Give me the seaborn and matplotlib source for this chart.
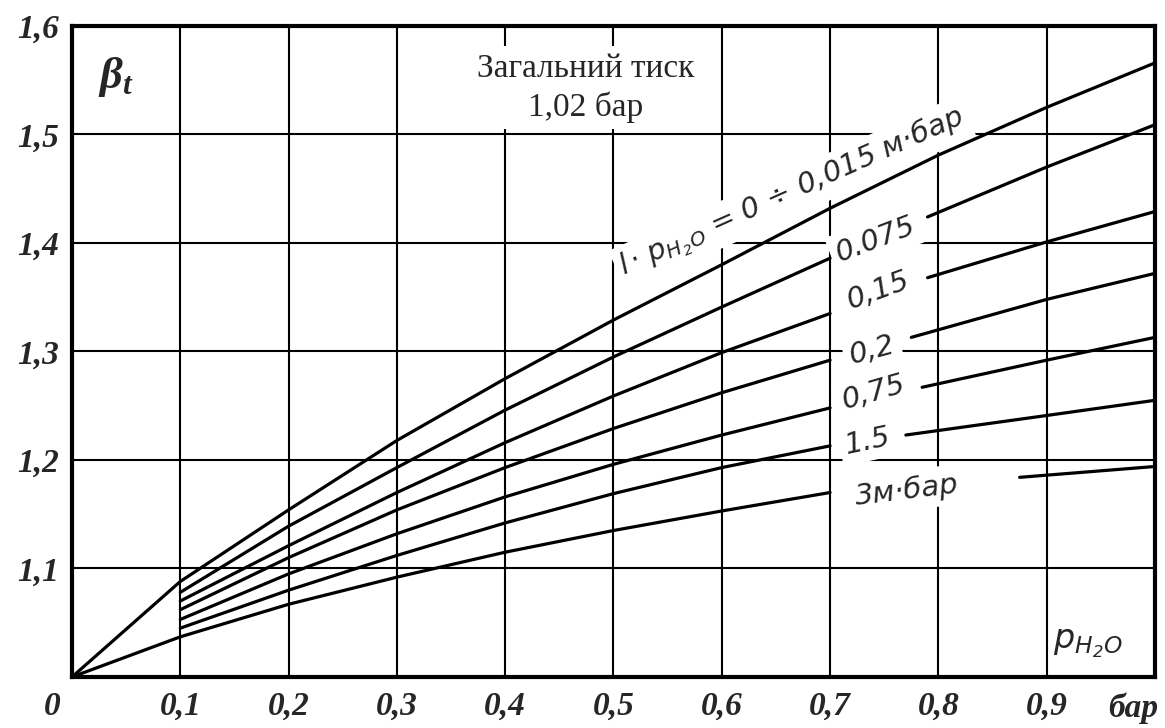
import matplotlib
matplotlib.use("Agg")
import matplotlib.pyplot as plt
import matplotlib.transforms as mtransforms
from matplotlib import font_manager
import pandas as pd
import seaborn as sns

# partial pressure of H2O, bar
p_full = [0.0, 0.1, 0.2, 0.3, 0.4, 0.5, 0.6, 0.7, 0.8, 0.9, 1.0]
p_left = [0.1, 0.2, 0.3, 0.4, 0.5, 0.6, 0.7]
p_left_3 = [0.0, 0.1, 0.2, 0.3, 0.4, 0.5, 0.6, 0.7]

# beta_t, one list per l*p_H2O curve
beta_0_015 = [1.000, 1.088, 1.154, 1.218, 1.275, 1.329, 1.380, 1.432, 1.481, 1.525, 1.566]

beta_0_075_left = [1.078, 1.139, 1.193, 1.246, 1.295, 1.341, 1.386]
p_0_075_right = [0.79, 0.9, 1.0]
beta_0_075_right = [1.424, 1.470, 1.509]

beta_0_15_left = [1.070, 1.121, 1.170, 1.216, 1.259, 1.299, 1.335]
p_0_15_right = [0.79, 0.9, 1.0]
beta_0_15_right = [1.368, 1.401, 1.429]

beta_0_2_left = [1.062, 1.110, 1.154, 1.193, 1.229, 1.262, 1.292]
p_0_2_right = [0.775, 0.9, 1.0]
beta_0_2_right = [1.313, 1.348, 1.372]

beta_0_75_left = [1.053, 1.095, 1.132, 1.166, 1.196, 1.223, 1.248]
p_0_75_right = [0.785, 0.9, 1.0]
beta_0_75_right = [1.267, 1.292, 1.313]

beta_1_5_left = [1.045, 1.080, 1.112, 1.142, 1.169, 1.193, 1.213]
p_1_5_right = [0.77, 0.9, 1.0]
beta_1_5_right = [1.223, 1.241, 1.255]

beta_3_left = [1.000, 1.037, 1.067, 1.092, 1.115, 1.135, 1.153, 1.170]
p_3_right = [0.875, 1.0]
beta_3_right = [1.184, 1.194]

x_ticks = [0.0, 0.1, 0.2, 0.3, 0.4, 0.5, 0.6, 0.7, 0.8, 0.9]
x_tick_labels = ["0", "0,1", "0,2", "0,3", "0,4", "0,5", "0,6", "0,7", "0,8", "0,9"]
y_ticks = [1.1, 1.2, 1.3, 1.4, 1.5, 1.6]
y_tick_labels = ["1,1", "1,2", "1,3", "1,4", "1,5", "1,6"]

top_label = r"$\mathsf{l\cdot\,p_{H_2O}}$ = 0 ÷ 0,015 м·бар"
curve_labels = ["0.075", "0,15", "0,2", "0,75", "1.5", "3м·бар"]
curve_label_pos = [(0.742, 1.403), (0.744, 1.356), (0.739, 1.301),
                   (0.740, 1.262), (0.735, 1.2175), (0.771, 1.172)]
curve_label_rot = [21, 20, 15, 16, 12, 7]

segments = [
    (p_full, beta_0_015),
    (p_left, beta_0_075_left), (p_0_075_right, beta_0_075_right),
    (p_left, beta_0_15_left), (p_0_15_right, beta_0_15_right),
    (p_left, beta_0_2_left), (p_0_2_right, beta_0_2_right),
    (p_left, beta_0_75_left), (p_0_75_right, beta_0_75_right),
    (p_left, beta_1_5_left), (p_1_5_right, beta_1_5_right),
    (p_left_3, beta_3_left), (p_3_right, beta_3_right),
]
df = pd.concat(
    [pd.DataFrame({"p": p, "beta": b, "seg": i}) for i, (p, b) in enumerate(segments)],
    ignore_index=True,
)

sns.set_style("white")
installed = {f.name for f in font_manager.fontManager.ttflist}
narrow = "DejaVu Sans"
for cand in ["Liberation Sans Narrow", "DejaVu Sans Condensed"]:
    if cand in installed:
        narrow = cand
        break

plt.rcParams["font.family"] = ["Liberation Serif", "DejaVu Serif"]
plt.rcParams["mathtext.fontset"] = "custom"
plt.rcParams["mathtext.it"] = "Liberation Serif:italic:bold"
plt.rcParams["mathtext.rm"] = "Liberation Serif:bold"
plt.rcParams["mathtext.sf"] = narrow + ":italic"

fig = plt.figure(figsize=(11.65, 7.28), dpi=100)
ax = fig.add_axes([0.0618, 0.0701, 0.9296, 0.8942])

sns.lineplot(data=df, x="p", y="beta", units="seg", estimator=None, sort=False,
             color="black", linewidth=2.3, ax=ax, zorder=4)

ax.set_xlim(0, 1.0)
ax.set_ylim(1.0, 1.6)
ax.set_xticks(x_ticks + [1.0])
ax.set_xticklabels(x_tick_labels + [""])
ax.set_yticks([1.0] + y_ticks)
ax.set_yticklabels([""] + y_tick_labels)
ax.grid(True, color="black", linewidth=1.5)
ax.set_axisbelow(True)
for s in ax.spines.values():
    s.set_visible(True)
    s.set_color("black")
    s.set_linewidth(3)
    s.set_zorder(6)
ax.tick_params(length=0, labelsize=24, pad=9)
ax.tick_params(axis="x", pad=10)
for lab in ax.get_xticklabels() + ax.get_yticklabels():
    lab.set_fontweight("bold")
    lab.set_fontstyle("italic")
xl0 = ax.get_xticklabels()[0]
xl0.set_transform(xl0.get_transform() + mtransforms.ScaledTranslation(-0.2, 0, fig.dpi_scale_trans))
ax.set_xlabel("")
ax.set_ylabel("")

ax.text(0.98, -0.048, "бар", transform=ax.get_xaxis_transform(), ha="center", va="center",
        fontsize=24, fontweight="bold", fontstyle="italic")
ax.text(0.040, 1.553, r"$\beta_t$", fontsize=32, ha="center", va="center")
ax.text(0.474, 1.543, "Загальний тиск\n1,02 бар", fontsize=24, ha="center", va="center",
        multialignment="center", linespacing=1.3, zorder=3,
        bbox=dict(boxstyle="square,pad=0.2", facecolor="white", edgecolor="none"))

label_font = dict(family=[narrow, "DejaVu Sans"], style="italic", fontsize=21)
ax.text(0.665, 1.446, top_label, rotation=24, rotation_mode="anchor", ha="center", va="center",
        zorder=3, bbox=dict(boxstyle="square,pad=0.15", facecolor="white", edgecolor="none"),
        **label_font)
for txt, (px, py), rot in zip(curve_labels, curve_label_pos, curve_label_rot):
    ax.text(px, py, txt, rotation=rot, rotation_mode="anchor", ha="center", va="center",
            zorder=3, bbox=dict(boxstyle="square,pad=0.2", facecolor="white", edgecolor="none"),
            **label_font)
ax.text(0.938, 1.031, r"$\mathsf{p_{H_2O}}$", fontsize=24, ha="center", va="center")

fig.savefig("out.png", dpi=100)
